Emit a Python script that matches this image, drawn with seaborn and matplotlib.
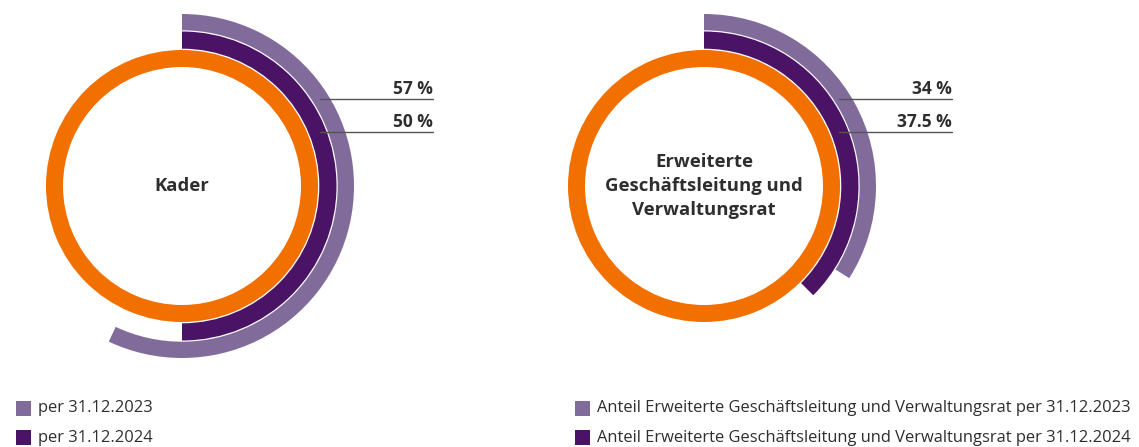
import numpy as np
import matplotlib
matplotlib.use("Agg")
import matplotlib.pyplot as plt
import seaborn as sns

# Stil setzen, danach die Schrift
sns.set_theme(style="white")
plt.rcParams['font.family'] = ['Open Sans', 'DejaVu Sans']

# Daten
gruppen = ["Kader", "Erweiterte\nGeschäftsleitung und\nVerwaltungsrat"]
anteil_2023 = [57, 34]
anteil_2024 = [50, 37.5]
legende_links = ["per 31.12.2023", "per 31.12.2024"]
legende_rechts = ["Anteil Erweiterte Geschäftsleitung und Verwaltungsrat per 31.12.2023",
                  "Anteil Erweiterte Geschäftsleitung und Verwaltungsrat per 31.12.2024"]

# Farben
orange = "#F27000"
lila_dunkel = "#4B1366"
lila_hell = "#806B9B"
textfarbe = "#2E2E2E"

W, H = 1139, 447
fig = plt.figure(figsize=(W / 100, H / 100), dpi=100)

zentren = [(182, 186), (704, 186)]
R = 180
# Ringe: (innen, aussen)
ring_orange = (119, 136)
ring_2024 = (137.3, 154.5)
ring_2023 = (155.7, 172)


def ring(ax, wert, radien, farbe):
    r_in, r_out = radien
    ax.bar(0, r_out - r_in, width=2 * np.pi * wert / 100, bottom=r_in,
           align='edge', color=farbe, linewidth=0)


for (cx, cy), a23, a24 in zip(zentren, anteil_2023, anteil_2024):
    ax = fig.add_axes([(cx - R) / W, (H - cy - R) / H, 2 * R / W, 2 * R / H], projection='polar')
    ax.set_theta_zero_location('N')
    ax.set_theta_direction(-1)
    ring(ax, 100, ring_orange, orange)
    ring(ax, a24, ring_2024, lila_dunkel)
    ring(ax, a23, ring_2023, lila_hell)
    ax.set_ylim(0, R)
    ax.axis('off')

# Overlay in Pixelkoordinaten fuer Texte, Linien und Legende
ov = fig.add_axes([0, 0, 1, 1])
ov.set_xlim(0, W)
ov.set_ylim(H, 0)
ov.axis('off')

label_x_ende = [433, 952]
label_x_start = [320, 839]
for i, (cx, cy) in enumerate(zentren):
    ov.text(cx, cy, gruppen[i], ha='center', va='center', fontsize=13.3,
            fontweight='bold', color=textfarbe, linespacing=1.45)
    for wert, y in [(anteil_2023[i], 99), (anteil_2024[i], 132)]:
        ov.plot([label_x_start[i], label_x_ende[i]], [y, y], color="#555555", lw=1)
        ov.text(label_x_ende[i], y - 5, f"{wert:g} %", ha='right', va='baseline',
                fontsize=12.5, fontweight='bold', color=textfarbe)

# Legenden
for x0, texte in [(16, legende_links), (575, legende_rechts)]:
    for j, (txt, farbe) in enumerate(zip(texte, [lila_hell, lila_dunkel])):
        y0 = 401 + j * 29
        ov.add_patch(plt.Rectangle((x0, y0), 15, 15, color=farbe, linewidth=0))
        ov.text(x0 + 22, y0 + 7.5, txt, ha='left', va='center', fontsize=11.9, color=textfarbe)

fig.savefig("out.png", dpi=100, facecolor="white")
